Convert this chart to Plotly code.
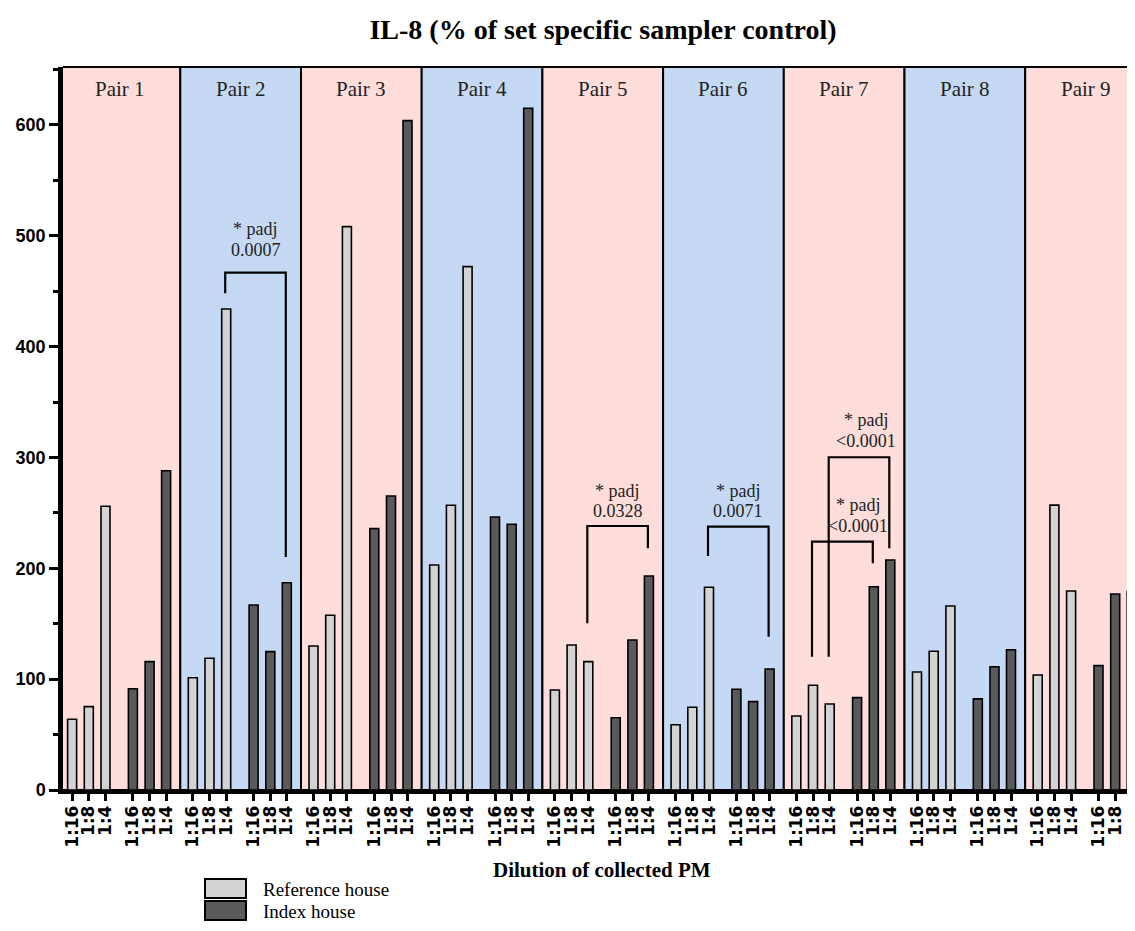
import plotly.graph_objects as go

# ---------------- data ----------------
pairs = [f"Pair {i}" for i in range(1, 10)]
dilutions = ["1:16", "1:8", "1:4"]

reference_house = [
    [63.8, 75.2, 256.0],
    [101.3, 118.8, 434.0],
    [129.9, 157.6, 508.3],
    [203.0, 256.9, 472.2],
    [90.2, 130.8, 115.8],
    [58.9, 74.6, 182.9],
    [66.8, 94.5, 77.6],
    [106.5, 125.2, 166.0],
    [103.8, 257.0, 179.6],
]
index_house = [
    [91.4, 115.8, 288.0],
    [166.9, 124.8, 187.0],
    [235.8, 265.3, 603.9],
    [246.3, 239.7, 615.1],
    [65.2, 135.3, 193.1],
    [90.9, 79.7, 109.2],
    [83.3, 183.4, 207.5],
    [82.2, 111.2, 126.6],
    [112.2, 176.9, 179.1],
]

# significance brackets: pair index, (group, dilution) ends, heights, label
comparisons = [
    dict(pair=1, a=(0, 2), b=(1, 2), top=466.8, a_end=448.2, b_end=210.2, label="0.0007", label_y=487.2, dx=0),
    dict(pair=4, a=(0, 2), b=(1, 2), top=238.2, a_end=150.4, b_end=218.1, label="0.0328", label_y=251.7, dx=0),
    dict(pair=5, a=(0, 2), b=(1, 2), top=237.6, a_end=211.1, b_end=138.3, label="0.0071", label_y=251.7, dx=0),
    dict(pair=6, a=(0, 2), b=(1, 2), top=300.2, a_end=120.3, b_end=218.1, label="<0.0001", label_y=314.9, dx=7),
    dict(pair=6, a=(0, 1), b=(1, 1), top=224.0, a_end=120.3, b_end=204.5, label="<0.0001", label_y=238.2, dx=16),
]

# ---------------- styling / layout constants ----------------
# page coordinates of the target view; the html body adds an 8px margin
VIEW_W, VIEW_H = 1135, 931
OFF = 8
W, H = VIEW_W - OFF, VIEW_H - 2 * OFF
PLOT_LEFT, PLOT_TOP, PLOT_BOTTOM = 63, 67, 790   # page px
L = PLOT_LEFT - OFF
T = PLOT_TOP - OFF
B = (H + OFF) - PLOT_BOTTOM
R = 0
PW = W - L - R
PH = H - T - B
Y_MAX = 652.3
PANEL_W = 120.7
PANEL_X0 = -3.4
BAR_OFFSETS = [[12.5, 29.2, 45.9], [73.3, 90.0, 106.5]]
PINK = "#FFDDDB"
BLUE = "#C6D9F4"
LIGHT = "#D3D3D3"
DARK = "#5A5A5A"
SERIF = "Liberation Serif"
SANS = "Liberation Sans"


def bar_x(p, g, d):
    return PANEL_X0 + p * PANEL_W + BAR_OFFSETS[g][d]


def px_to_paper_x(px):
    return (px - PLOT_LEFT) / PW


def px_to_paper_y(py):
    return (PLOT_BOTTOM - py) / PH


fig = go.Figure()

groups = [("Reference house", reference_house, LIGHT), ("Index house", index_house, DARK)]
tickvals, ticktext = [], []
for g, (name, vals, col) in enumerate(groups):
    xs, ys = [], []
    for p in range(len(pairs)):
        for d in range(len(dilutions)):
            xs.append(bar_x(p, g, d))
            ys.append(vals[p][d])
            tickvals.append(bar_x(p, g, d))
            ticktext.append(dilutions[d])
    fig.add_trace(go.Bar(
        x=xs, y=ys, width=9, name=name, showlegend=False,
        marker=dict(color=col, line=dict(color="black", width=1.6)),
    ))

shapes = []
annotations = []

# panel backgrounds
for p, name in enumerate(pairs):
    x0 = PANEL_X0 + p * PANEL_W
    shapes.append(dict(
        type="rect", xref="x", yref="paper", x0=x0, x1=x0 + PANEL_W, y0=0, y1=1,
        fillcolor=PINK if p % 2 == 0 else BLUE, line=dict(color="black", width=2),
        layer="below",
    ))
    annotations.append(dict(
        x=x0 + PANEL_W / 2, y=632.8, xref="x", yref="y", text=name, showarrow=False,
        font=dict(family=SERIF, size=21, color="#222"), xanchor="center", yanchor="middle",
    ))

# brackets
for c in comparisons:
    xa = bar_x(c["pair"], *c["a"]) - 1
    xb = bar_x(c["pair"], *c["b"]) - 1
    path = f"M {xa},{c['a_end']} L {xa},{c['top']} L {xb},{c['top']} L {xb},{c['b_end']}"
    shapes.append(dict(type="path", xref="x", yref="y", path=path,
                       line=dict(color="black", width=2.2), layer="above"))
    xc = (xa + xb) / 2 + c["dx"]
    annotations.append(dict(x=xc, y=c["label_y"], xref="x", yref="y", text=c["label"],
                            showarrow=False, font=dict(family=SERIF, size=18, color="#222"),
                            xanchor="center", yanchor="middle"))
    annotations.append(dict(x=xc, y=c["label_y"] + 18.5, xref="x", yref="y", text="* padj",
                            showarrow=False, font=dict(family=SERIF, size=18, color="#222"),
                            xanchor="center", yanchor="middle"))

# axis title
annotations.append(dict(x=px_to_paper_x(602), y=px_to_paper_y(870), xref="paper", yref="paper",
                        text="<b>Dilution of collected PM</b>", showarrow=False,
                        font=dict(family=SERIF, size=21, color="black"),
                        xanchor="center", yanchor="middle"))

# legend (drawn)
legend_rows = [879, 901]
for i, (name, vals, col) in enumerate(groups):
    y0 = legend_rows[i]
    shapes.append(dict(type="rect", xref="paper", yref="paper",
                       x0=px_to_paper_x(205), x1=px_to_paper_x(246),
                       y0=px_to_paper_y(y0 + 19), y1=px_to_paper_y(y0),
                       fillcolor=col, line=dict(color="black", width=2)))
    annotations.append(dict(x=px_to_paper_x(261), y=px_to_paper_y(y0 + 10),
                            xref="paper", yref="paper",
                            text=name, showarrow=False,
                            font=dict(family=SERIF, size=19, color="black"),
                            xanchor="left", yanchor="middle"))

fig.update_layout(
    width=W, height=H,
    margin=dict(l=L, r=R, t=T, b=B, pad=0),
    paper_bgcolor="white", plot_bgcolor="white",
    barmode="overlay",
    title=dict(text="<b>IL-8 (% of set specific sampler control)</b>",
               x=(603 - OFF) / W, xanchor="center", y=1 - (29 - OFF) / H, yanchor="middle",
               font=dict(family=SERIF, size=28, color="black")),
    shapes=shapes, annotations=annotations,
    showlegend=False,
)

fig.update_xaxes(
    range=[0, PW], showgrid=False, zeroline=False,
    showline=True, linecolor="black", linewidth=3.5,
    tickmode="array", tickvals=tickvals, ticktext=ticktext,
    ticks="outside", ticklen=7, tickwidth=3, tickcolor="black",
    ticklabelstandoff=-2,
    tickangle=-90, tickfont=dict(family="DejaVu Sans", size=17, color="black", weight="bold"),
)
fig.update_yaxes(
    range=[0, Y_MAX], showgrid=False, zeroline=False,
    showline=True, linecolor="black", linewidth=4.5,
    tickmode="array", tickvals=[0, 100, 200, 300, 400, 500, 600],
    ticks="outside", ticklen=9, tickwidth=3, tickcolor="black",
    minor=dict(tickmode="array", tickvals=[50, 150, 250, 350, 450, 550, 650],
               ticks="outside", ticklen=5, tickwidth=3, tickcolor="black", showgrid=False),
    tickfont=dict(family=SANS, size=18, color="black", weight="bold"),
)

fig.write_html("out.html")
